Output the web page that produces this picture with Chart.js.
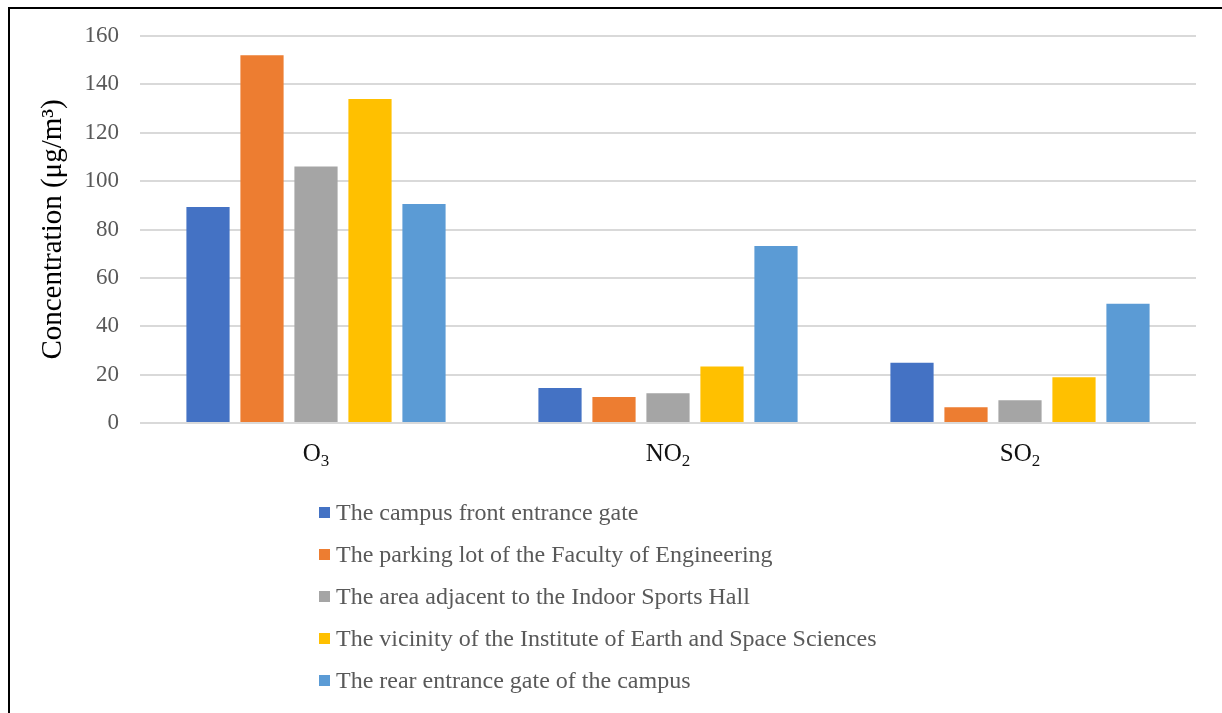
<!DOCTYPE html>
<html>
<head>
<meta charset="utf-8">
<script src="https://cdn.jsdelivr.net/npm/chart.js@4.4.1/dist/chart.umd.min.js"></script>
<style>
  html, body { margin: 0; padding: 0; background: #fff; }
  #wrap { position: relative; width: 1222px; height: 713px; overflow: hidden; }
  #frame { position: absolute; left: 8px; top: 7px; right: -4px; bottom: -4px;
           border-top: 2px solid #000; border-left: 2px solid #000; pointer-events: none; }
  #legend { position: absolute; left: 319px; top: 491px; font-family: "Liberation Serif", "Times New Roman", serif;
            font-size: 24px; color: #595959; }
  #legend div { height: 42px; line-height: 42px; display: flex; align-items: center; }
  #legend span.box { display: inline-block; width: 11px; height: 11px; margin-right: 6px; }
</style>
</head>
<body>
<div id="wrap">
  <canvas id="chart" width="1222" height="713"></canvas>
  <div id="frame"></div>
  <div id="legend"></div>
</div>
<script>
// pollutants on the x axis (formula + subscript)
const pollutants = ["O3", "NO2", "SO2"];
const formulaBase = ["O", "NO", "SO"];
const formulaSub = ["3", "2", "2"];

// sampling sites (one series each)
const sites = [
  "The campus front entrance gate",
  "The parking lot of the Faculty of Engineering",
  "The area adjacent to the Indoor Sports Hall",
  "The vicinity of the Institute of Earth and Space Sciences",
  "The rear entrance gate of the campus",
];

// values in µg/m3 (O3, NO2, SO2)
const frontGate = [89.3, 14.5, 24.9];
const engineeringParking = [152, 10.7, 6.5];
const sportsHall = [106, 12.3, 9.4];
const earthSpaceInst = [134, 23.4, 18.9];
const rearGate = [90.5, 73.2, 49.3];

const colors = ["#4472C4", "#ED7D31", "#A5A5A5", "#FFC000", "#5B9BD5"];
const series = [frontGate, engineeringParking, sportsHall, earthSpaceInst, rearGate];

const serif = "'Liberation Serif', 'Times New Roman', serif";

// draws the category labels with a real subscript
const formulaLabels = {
  id: "formulaLabels",
  afterDraw(chart) {
    const x = chart.scales.x;
    const c = chart.ctx;
    c.save();
    c.fillStyle = "#111";
    c.textBaseline = "alphabetic";
    formulaBase.forEach((base, i) => {
      const cx = x.getPixelForTick(i);
      c.font = "25px " + serif;
      const wb = c.measureText(base).width;
      c.font = "17px " + serif;
      const ws = c.measureText(formulaSub[i]).width;
      const left = cx - (wb + ws) / 2;
      c.font = "25px " + serif;
      c.textAlign = "left";
      c.fillText(base, left, x.top + 38);
      c.font = "17px " + serif;
      c.fillText(formulaSub[i], left + wb, x.top + 43);
    });
    c.restore();
  },
};

const ctx = document.getElementById("chart").getContext("2d");
const chart = new Chart(ctx, {
  type: "bar",
  data: {
    labels: pollutants,
    datasets: series.map((vals, i) => ({
      label: sites[i],
      data: vals,
      backgroundColor: colors[i],
      borderWidth: 0,
      categoryPercentage: 0.767,
      barPercentage: 0.8,
    })),
  },
  options: {
    responsive: false,
    animation: false,
    layout: { padding: { left: 10, right: 26, top: 36, bottom: 0 } },
    plugins: {
      legend: { display: false },
      tooltip: { enabled: false },
    },
    scales: {
      x: {
        grid: { display: false, drawTicks: false },
        border: { display: false },
        ticks: { display: false },
        afterFit: (s) => { s.height = 290; },
      },
      y: {
        min: 0,
        max: 160,
        ticks: {
          stepSize: 20,
          color: "#595959",
          padding: 21,
          font: { family: serif, size: 23 },
        },
        grid: { color: "#d9d9d9", lineWidth: 2, drawTicks: false },
        border: { display: false },
        title: {
          display: true,
          text: "Concentration (\u03bcg/m\u00b3)",
          color: "#000",
          font: { family: serif, size: 29 },
          padding: { top: 26, bottom: 0 },
        },
        afterFit: (s) => { s.width = 130; },
      },
    },
  },
  plugins: [formulaLabels],
});

// vertical legend below the plot, built from the datasets
const legend = document.getElementById("legend");
chart.data.datasets.forEach((ds) => {
  const row = document.createElement("div");
  const box = document.createElement("span");
  box.className = "box";
  box.style.background = ds.backgroundColor;
  row.appendChild(box);
  row.appendChild(document.createTextNode(ds.label));
  legend.appendChild(row);
});
</script>
</body>
</html>
